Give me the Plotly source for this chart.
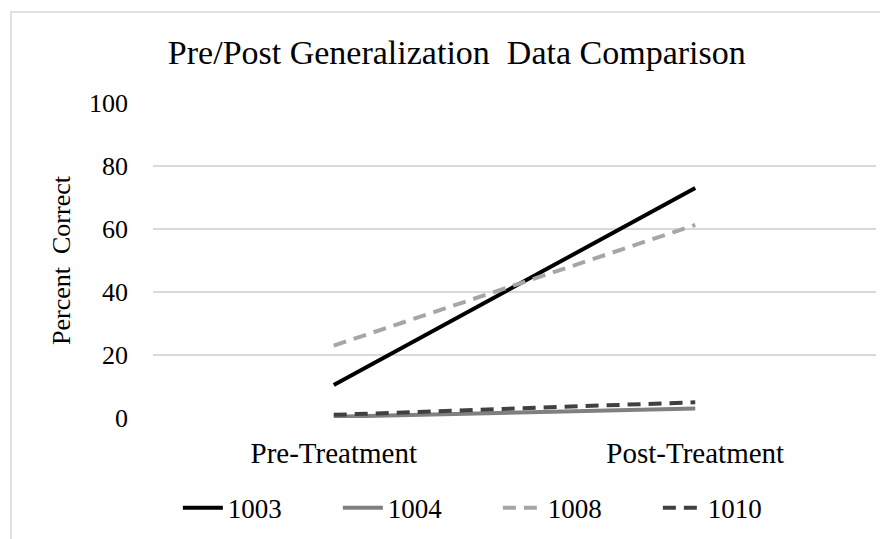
import plotly.graph_objects as go

categories = ["Pre-Treatment", "Post-Treatment"]
series_names = ["1003", "1004", "1008", "1010"]
s1003 = [10.5, 73]
s1004 = [0.4, 3]
s1008 = [23, 61.3]
s1010 = [1, 5]
y_ticks = [0, 20, 40, 60, 80, 100]

styles = {
    "1003": dict(color="#000000", dash="solid"),
    "1004": dict(color="#808080", dash="solid"),
    "1008": dict(color="#a6a6a6", dash="13px,8px"),
    "1010": dict(color="#404040", dash="13px,8px"),
}
values = {"1003": s1003, "1004": s1004, "1008": s1008, "1010": s1010}

FONT = "Liberation Serif, Times New Roman, serif"

fig = go.Figure()
for name in series_names:
    st = styles[name]
    fig.add_trace(go.Scatter(
        x=categories, y=values[name], mode="lines", name=name,
        line=dict(color=st["color"], width=4, dash=st["dash"]),
    ))

fig.update_layout(
    width=880, height=531,
    margin=dict(l=145, r=12, t=95, b=121, autoexpand=False),
    paper_bgcolor="white", plot_bgcolor="white",
    font=dict(family=FONT, color="#000000", size=26),
    title=dict(text="Pre/Post Generalization  Data Comparison",
               x=0.510, xanchor="center", y=0.917, yanchor="middle",
               font=dict(size=34, family=FONT, color="#000000")),
    showlegend=True,
    legend=dict(orientation="h", x=0.477, xanchor="center", y=-0.286, yanchor="middle",
                font=dict(size=27, family=FONT), itemwidth=40,
                entrywidth=105, entrywidthmode="pixels", traceorder="normal"),
    xaxis=dict(range=[-0.5, 1.5], showgrid=False, zeroline=False, showline=False,
               ticks="", tickfont=dict(size=29), type="category", ticklabelstandoff=15),
    yaxis=dict(range=[0, 100], tickvals=y_ticks, showgrid=True, gridcolor="#d9d9d9",
               gridwidth=1.5, zeroline=False, showline=False, ticks="",
               ticklabelstandoff=24, tickfont=dict(size=26),
               title=dict(text="Percent  Correct", font=dict(size=26, family=FONT), standoff=10)),
    shapes=[dict(type="rect", xref="paper", yref="paper", x0=-0.1964, x1=1.5, y0=-1.0, y1=1.289,
                 line=dict(color="#d9d9d9", width=1.5), fillcolor="rgba(0,0,0,0)", layer="below")],
)

fig.write_html("out.html")
